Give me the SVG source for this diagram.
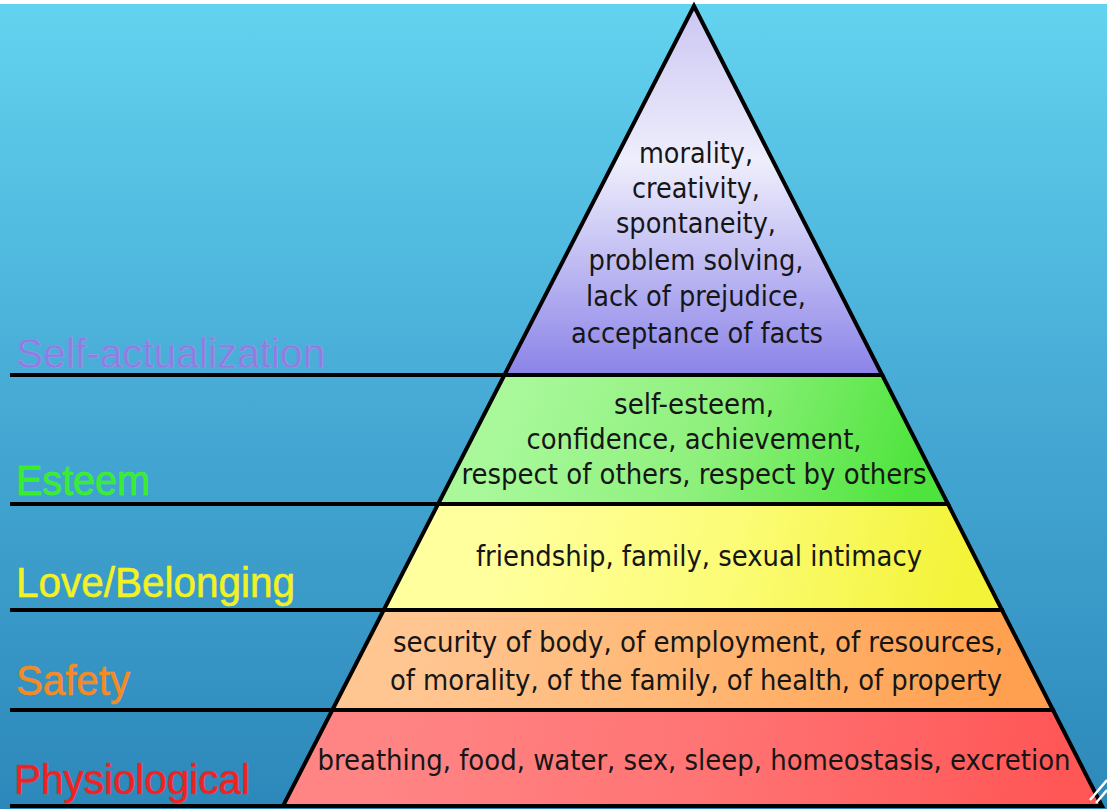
<svg xmlns="http://www.w3.org/2000/svg" width="1107" height="809" viewBox="0 0 1107 809">
  <defs>
    <linearGradient id="bg" x1="0" y1="0" x2="0" y2="1">
      <stop offset="0" stop-color="#63d3ef"/>
      <stop offset="0.5" stop-color="#46aad5"/>
      <stop offset="1" stop-color="#2c88ba"/>
    </linearGradient>
    <linearGradient id="gPurple" gradientUnits="userSpaceOnUse" x1="0" y1="6" x2="0" y2="375">
      <stop offset="0" stop-color="#cbc6f3"/>
      <stop offset="0.42" stop-color="#efeefc"/>
      <stop offset="1" stop-color="#8b83e8"/>
    </linearGradient>
    <linearGradient id="gGreen" gradientUnits="userSpaceOnUse" x1="520" y1="370" x2="900" y2="510">
      <stop offset="0" stop-color="#a9f99b"/>
      <stop offset="0.5" stop-color="#8ef07c"/>
      <stop offset="1" stop-color="#4fe43d"/>
    </linearGradient>
    <linearGradient id="gYellow" gradientUnits="userSpaceOnUse" x1="500" y1="504" x2="950" y2="610">
      <stop offset="0" stop-color="#ffff9e"/>
      <stop offset="0.5" stop-color="#fcfc78"/>
      <stop offset="1" stop-color="#f3f33a"/>
    </linearGradient>
    <linearGradient id="gOrange" gradientUnits="userSpaceOnUse" x1="420" y1="610" x2="1000" y2="710">
      <stop offset="0" stop-color="#ffc692"/>
      <stop offset="0.5" stop-color="#ffb672"/>
      <stop offset="1" stop-color="#ffa050"/>
    </linearGradient>
    <linearGradient id="gRed" gradientUnits="userSpaceOnUse" x1="380" y1="710" x2="1060" y2="806">
      <stop offset="0" stop-color="#ff8585"/>
      <stop offset="0.5" stop-color="#ff7373"/>
      <stop offset="1" stop-color="#ff5656"/>
    </linearGradient>
  </defs>
  <style>
    .layer { stroke: #000; stroke-width: 4; stroke-linejoin: miter; }
    .rule { stroke: #000; stroke-width: 4; fill: none; }
    .body { font-family: "DejaVu Sans Condensed", "DejaVu Sans", sans-serif; font-size: 28px; fill: #161616; text-anchor: middle; }
    .label { font-family: "Liberation Sans", Arial, sans-serif; font-size: 43px; stroke-width: 0.6; }
  </style>

  <rect x="0" y="0" width="1107" height="809" fill="url(#bg)"/>
  <rect x="0" y="0" width="1107" height="4" fill="#ffffff"/>

  <g id="physiological">
    <polygon class="layer" fill="url(#gRed)" points="332.3,710 1053,710 1102,806 283,806"/>
    <text class="body" x="694" y="770" textLength="753" lengthAdjust="spacingAndGlyphs">breathing, food, water, sex, sleep, homeostasis, excretion</text>
  </g>
  <g id="safety">
    <polygon class="layer" fill="url(#gOrange)" points="383.7,610 1002,610 1053,710 332.3,710"/>
    <text class="body" x="698" y="652" textLength="610" lengthAdjust="spacingAndGlyphs">security of body, of employment, of resources,</text>
    <text class="body" x="696" y="690" textLength="612" lengthAdjust="spacingAndGlyphs">of morality, of the family, of health, of property</text>
  </g>
  <g id="love">
    <polygon class="layer" fill="url(#gYellow)" points="438.1,504 948,504 1002,610 383.7,610"/>
    <text class="body" x="699" y="566" textLength="446" lengthAdjust="spacingAndGlyphs">friendship, family, sexual intimacy</text>
  </g>
  <g id="esteem">
    <polygon class="layer" fill="url(#gGreen)" points="504.4,375 882.2,375 948,504 438.1,504"/>
    <text class="body" x="694" y="414" textLength="160" lengthAdjust="spacingAndGlyphs">self-esteem,</text>
    <text class="body" x="694" y="449" textLength="335" lengthAdjust="spacingAndGlyphs">confidence, achievement,</text>
    <text class="body" x="694" y="484" textLength="465" lengthAdjust="spacingAndGlyphs">respect of others, respect by others</text>
  </g>
  <g id="self-actualization">
    <polygon class="layer" fill="url(#gPurple)" points="694,6 882.2,375 504.4,375"/>
    <text class="body" x="696" y="163" textLength="114" lengthAdjust="spacingAndGlyphs">morality,</text>
    <text class="body" x="696" y="198" textLength="128" lengthAdjust="spacingAndGlyphs">creativity,</text>
    <text class="body" x="696" y="233" textLength="160" lengthAdjust="spacingAndGlyphs">spontaneity,</text>
    <text class="body" x="696" y="270" textLength="215" lengthAdjust="spacingAndGlyphs">problem solving,</text>
    <text class="body" x="696" y="306" textLength="220" lengthAdjust="spacingAndGlyphs">lack of prejudice,</text>
    <text class="body" x="697" y="343" textLength="252" lengthAdjust="spacingAndGlyphs">acceptance of facts</text>
  </g>

  <g id="connectors">
    <line class="rule" x1="10" y1="375" x2="506" y2="375"/>
    <line class="rule" x1="10" y1="504" x2="440" y2="504"/>
    <line class="rule" x1="10" y1="610" x2="386" y2="610"/>
    <line class="rule" x1="10" y1="710" x2="334" y2="710"/>
    <line class="rule" x1="10" y1="806" x2="285" y2="806"/>
  </g>

  <g id="labels">
    <text class="label" x="16" y="368" textLength="309" lengthAdjust="spacingAndGlyphs" fill="#8a7ee0" stroke="#a097ea">Self-actualization</text>
    <text class="label" x="16" y="495" textLength="134" lengthAdjust="spacingAndGlyphs" fill="#36ee2c" stroke="#4cf040">Esteem</text>
    <text class="label" x="16" y="597" textLength="279" lengthAdjust="spacingAndGlyphs" fill="#f2f222" stroke="#f0f030">Love/Belonging</text>
    <text class="label" x="16" y="695" textLength="114" lengthAdjust="spacingAndGlyphs" fill="#f58a22" stroke="#f59030">Safety</text>
    <text class="label" x="14" y="794" textLength="236" lengthAdjust="spacingAndGlyphs" fill="#ee2222" stroke="#ee2a2a">Physiological</text>
  </g>

  <g id="decoration" stroke="#ffffff" stroke-width="2.5" fill="none">
    <line x1="1090" y1="800" x2="1107" y2="780"/>
    <line x1="1096" y1="803" x2="1107" y2="790"/>
  </g>
</svg>
